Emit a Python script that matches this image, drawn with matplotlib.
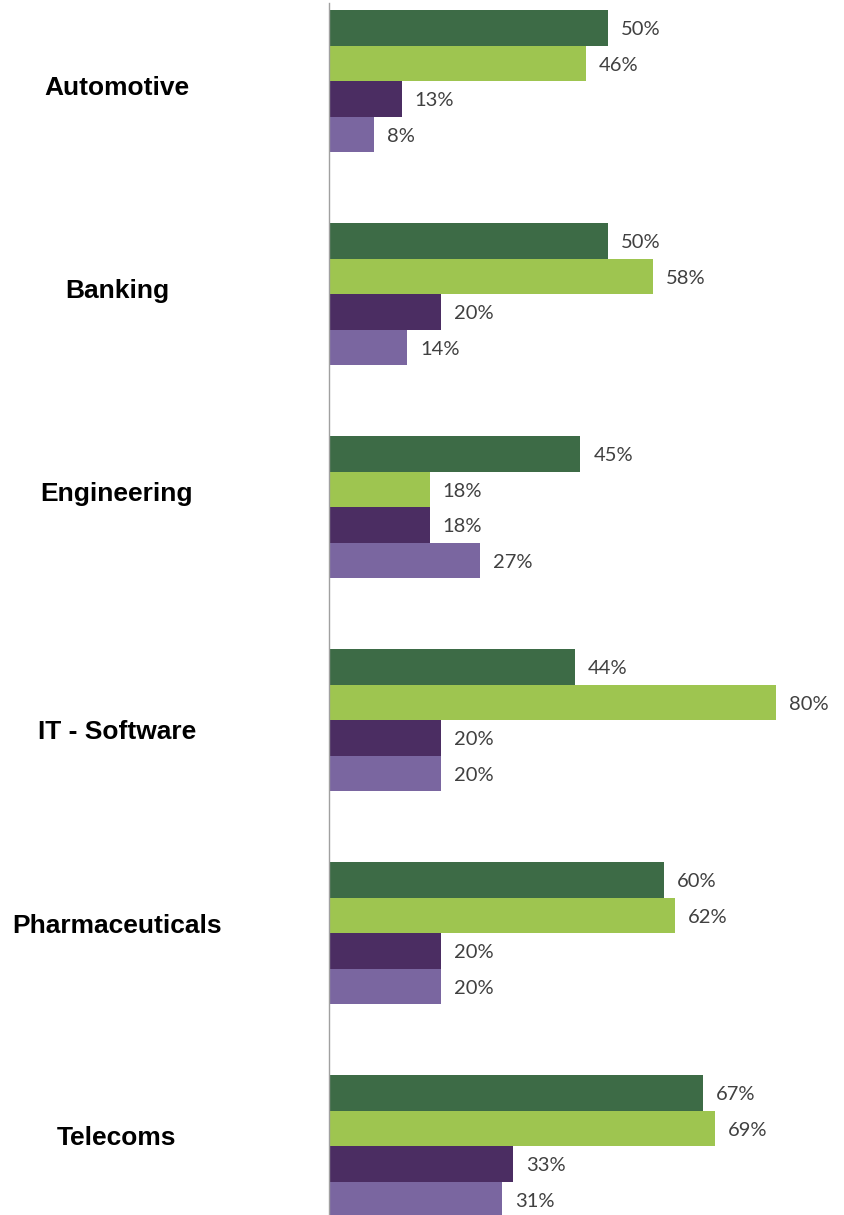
import matplotlib.pyplot as plt

categories = ['Automotive', 'Banking', 'Engineering', 'IT - Software', 'Pharmaceuticals', 'Telecoms']
series1 = [50, 50, 45, 44, 60, 67]
series2 = [46, 58, 18, 80, 62, 69]
series3 = [13, 20, 18, 20, 20, 33]
series4 = [8, 14, 27, 20, 20, 31]
colors = ['#3D6B46', '#9EC550', '#4B2D62', '#7A66A0']

# label centres in pixels from the top (they are not exactly on the groups)
label_y_px = [88, 291, 494, 732, 926, 1138]

W, H = 845, 1215
fig = plt.figure(figsize=(W / 100, H / 100), dpi=100)
ax = fig.add_axes([329 / W, 0, 1 - 329 / W, 1])

h = 1 / 6
px = 213.0  # pixels per group
for j, vals in enumerate([series1, series2, series3, series4]):
    ys = [i + (j - 1.5) * h for i in range(len(categories))]
    ax.barh(ys, vals, height=h, color=colors[j], edgecolor='none')
    for y, v in zip(ys, vals):
        ax.text(v + 2.3, y + 2 / px, f'{v}%', va='center', ha='left', fontsize=14.5,
                family='Lato', color='#404040')

top = -2 * h - 10 / px
ax.set_ylim(top + H / px, top)
ax.set_xlim(0, (W - 329) / 5.5875)

for s in ['top', 'right', 'bottom']:
    ax.spines[s].set_visible(False)
ax.spines['left'].set_color('#A0A0A0')
ax.spines['left'].set_linewidth(1)
ax.spines['left'].set_bounds(top + 3 / px, top + H / px)
ax.set_xticks([])
ax.set_yticks([])

for name, y in zip(categories, label_y_px):
    fig.text(117 / W, 1 - y / H, name, ha='center', va='center',
             fontsize=19, fontweight='bold', family='Liberation Sans')

fig.savefig('out.png', dpi=100)
